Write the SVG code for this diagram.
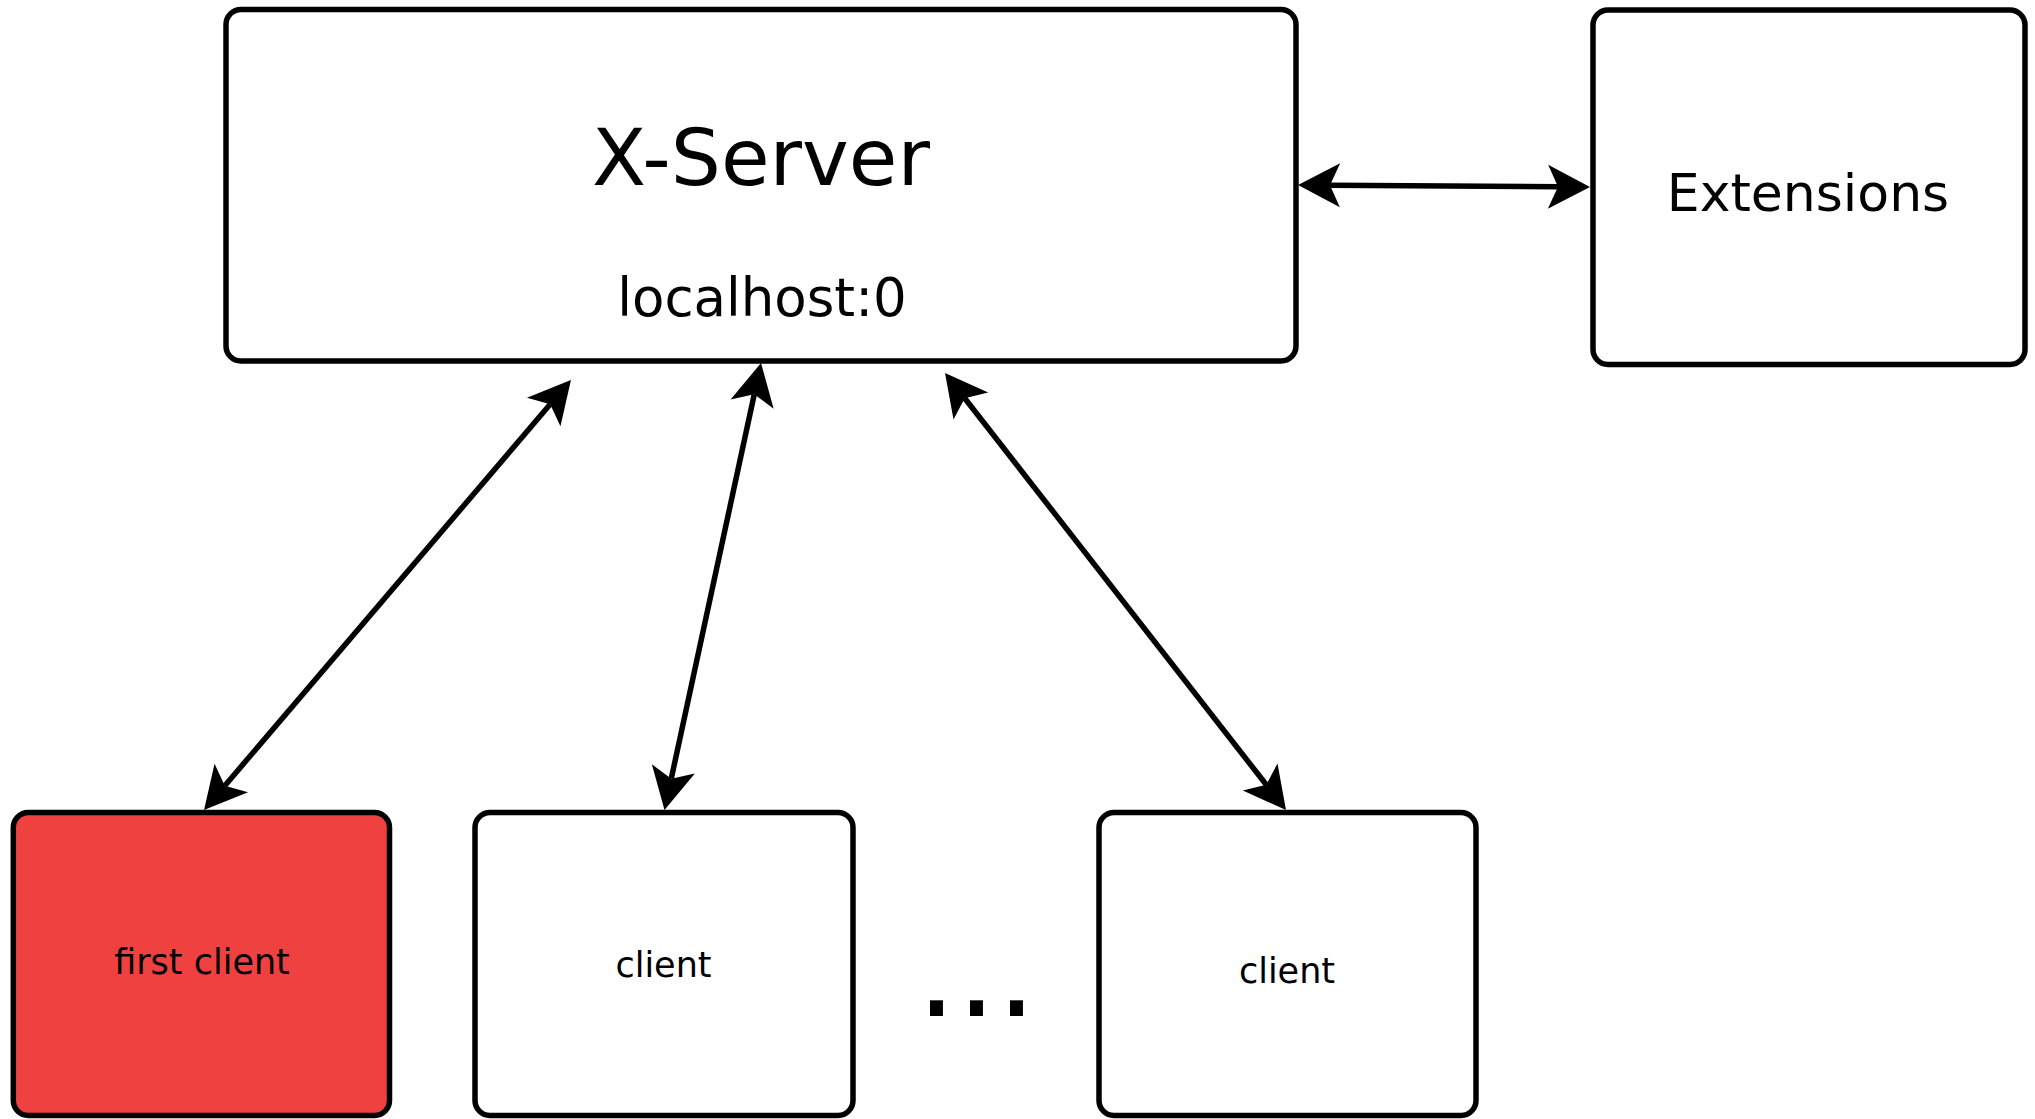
<svg xmlns="http://www.w3.org/2000/svg" width="2035" height="1119" viewBox="0 0 2035 1119">
<style>
.box{fill:#ffffff;stroke:#000000;stroke-width:5.5}
.red{fill:#f04141}
.lbl{font-family:"DejaVu Sans","Liberation Sans",sans-serif;fill:#000000;text-anchor:middle}
.con{fill:none;stroke:#000000;stroke-width:5.5;marker-start:url(#ah);marker-end:url(#ah)}
</style>
<defs>
<marker id="ah" markerUnits="userSpaceOnUse" orient="auto-start-reverse" viewBox="-12 -23 46 46" markerWidth="46" markerHeight="46" refX="0" refY="0" overflow="visible">
<path d="M32,0 L-10,-22 L0,0 L-10,22 Z" fill="#000000"/>
</marker>
</defs>
<rect width="2035" height="1119" fill="#ffffff"/>
<g id="connectors">
<path class="con" d="M1330,185.2 L1558,186.8"/>
<path class="con" d="M224.8,785.7 L550.2,404.3"/>
<path class="con" d="M671.25,778.7 L754.25,394.3"/>
<path class="con" d="M1266.3,784.8 L964.7,398.2"/>
</g>
<g id="xserver">
<rect class="box" x="226" y="9.5" width="1070" height="351.5" rx="15"/>
<text class="lbl" x="761" y="185" font-size="79">X-Server</text>
<text class="lbl" x="762" y="316" font-size="53">localhost:0</text>
</g>
<g id="extensions">
<rect class="box" x="1593" y="10" width="432" height="354.5" rx="15"/>
<text class="lbl" x="1808" y="211" font-size="52">Extensions</text>
</g>
<g id="first-client">
<rect class="box red" x="13.3" y="812.5" width="376.2" height="303" rx="15"/>
<text class="lbl" x="202" y="974" font-size="35">first client</text>
</g>
<g id="client1">
<rect class="box" x="475" y="812.5" width="378" height="303" rx="15"/>
<text class="lbl" x="663.5" y="977" font-size="35">client</text>
</g>
<g id="dots">
<text class="lbl" x="976.5" y="1016" font-size="126">...</text>
</g>
<g id="client2">
<rect class="box" x="1099" y="812.5" width="377" height="303" rx="15"/>
<text class="lbl" x="1287" y="983" font-size="35">client</text>
</g>
</svg>
